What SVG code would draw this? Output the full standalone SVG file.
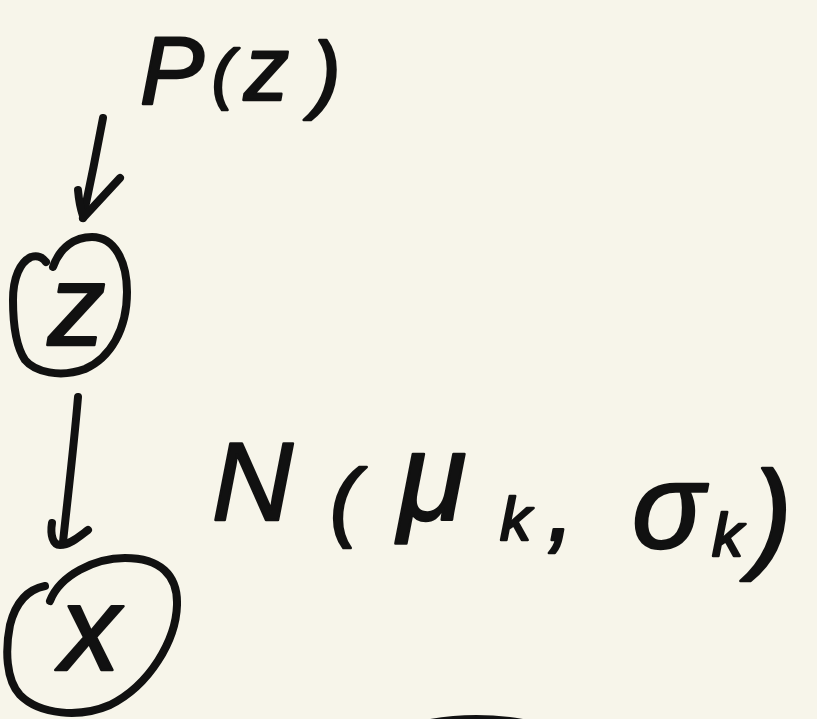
<svg xmlns="http://www.w3.org/2000/svg" width="817" height="719" viewBox="0 0 817 719">
  <style>
    .ink { fill: none; stroke: #111; stroke-width: 8; stroke-linecap: round; stroke-linejoin: round; }
    .hand { font-family: "Liberation Sans", "DejaVu Sans", sans-serif; font-style: italic; fill: #111; stroke: #111; stroke-width: 2.5; stroke-linejoin: round; }
  </style>
  <rect width="817" height="719" fill="#F7F5EA"/>

  <!-- prior label -->
  <g id="prior">
    <text class="hand"><tspan x="140" y="104" font-size="96">P</tspan><tspan x="212" y="96" font-size="66">(</tspan><tspan x="244" y="100" font-size="90">z</tspan><tspan x="312" y="102" font-size="86">)</tspan></text>
  </g>

  <!-- latent node z -->
  <g id="node-z">
    <path class="ink" d="M53,267 C60,247 75,237 92,237 C115,237 127,262 127,292 C127,330 110,358 85,369 C60,378 35,372 25,360 C15,345 13,322 13,300 C13,278 20,262 31,257 C38,255 43,258 46,262"/>
    <text class="hand" x="48" y="345" font-size="115">z</text>
  </g>

  <!-- observed node x -->
  <g id="node-x">
    <path class="ink" d="M50,601 C60,575 95,558 125,558 C160,558 178,575 177,605 C176,640 150,685 110,705 C80,718 40,715 20,695 C6,680 5,650 10,625 C15,605 25,590 45,586"/>
    <text class="hand" x="60" y="670" font-size="120">x</text>
  </g>

  <!-- emission distribution label -->
  <g id="likelihood">
    <text class="hand"><tspan x="212" y="520" font-size="112">N</tspan><tspan x="330" y="530" font-size="88">(</tspan><tspan x="398" y="520" font-size="125">μ</tspan><tspan x="500" y="540" font-size="62">k</tspan><tspan x="547" y="540" font-size="100">,</tspan><tspan x="632" y="548" font-size="120">σ</tspan><tspan x="712" y="556" font-size="62">k</tspan><tspan x="752" y="556" font-size="120">)</tspan></text>
  </g>

  <!-- arrows -->
  <g id="connectors">
    <path class="ink" d="M103,118 C97,150 90,185 83,218"/>
    <path class="ink" d="M120,178 L83,218 M78,190 C79,202 81,210 83,216"/>
    <path class="ink" d="M78,397 C74,445 68,495 63,542"/>
    <path class="ink" d="M52,523 C50,535 53,545 60,545 C70,545 80,536 88,530"/>
  </g>

  <!-- edge of a shape running off the bottom -->
  <path d="M430,719 Q476,711 523,719 Z" fill="#111"/>
</svg>
